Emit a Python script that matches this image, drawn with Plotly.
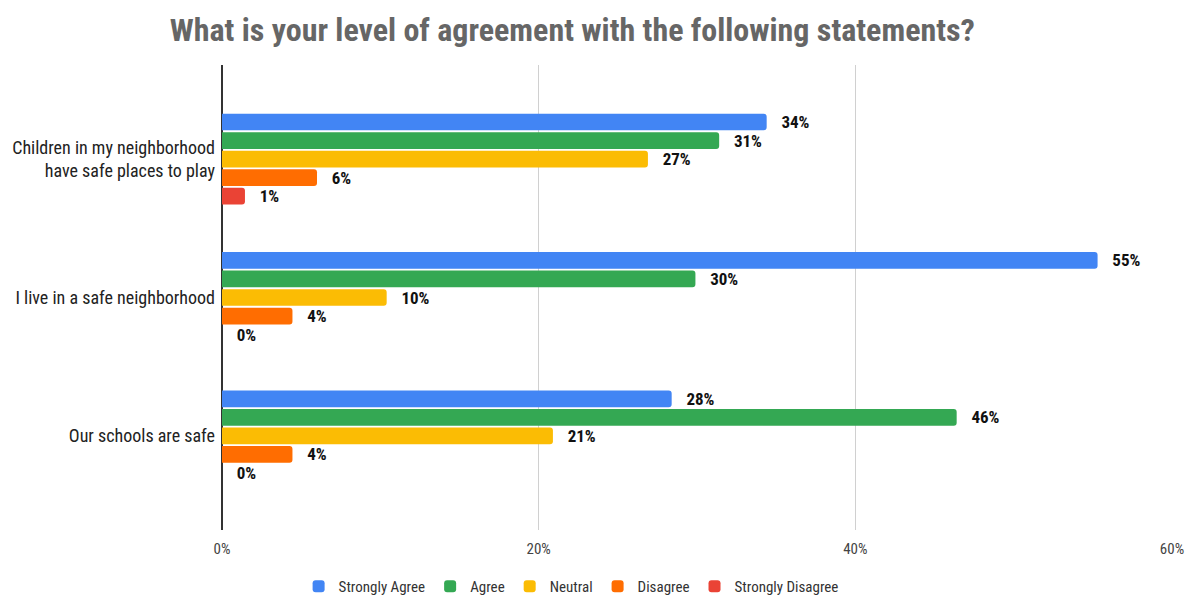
import plotly.graph_objects as go

categories = ["Children in my neighborhood<br>have safe places to play",
              "I live in a safe neighborhood",
              "Our schools are safe"]
series_names = ["Strongly Agree", "Agree", "Neutral", "Disagree", "Strongly Disagree"]
strongly_agree = [0.344, 0.553, 0.284]
agree = [0.314, 0.299, 0.464]
neutral = [0.269, 0.104, 0.209]
disagree = [0.060, 0.0445, 0.0445]
strongly_disagree = [0.0145, 0.0, 0.0]
colors = ["#4285F4", "#34A853", "#FBBC04", "#FF6D01", "#EA4335"]
tick_vals = [0, 0.2, 0.4, 0.6]
tick_text = ["0%", "20%", "40%", "60%"]

FONT = "Liberation Sans Narrow, Roboto Condensed, Arial Narrow, Liberation Sans, sans-serif"

fig = go.Figure()
for name, vals, col in zip(series_names,
                           [strongly_agree, agree, neutral, disagree, strongly_disagree],
                           colors):
    fig.add_trace(go.Bar(
        y=categories, x=vals, name=name, orientation="h",
        marker=dict(color=col, line=dict(width=0)),
        texttemplate="\u00a0\u00a0\u00a0%{x:.0%}", textposition="outside",
        constraintext="none",
        textfont=dict(family=FONT, size=17, color="#111111", weight="bold"),
        cliponaxis=False,
    ))

fig.update_layout(
    width=1188, height=588,
    paper_bgcolor="white", plot_bgcolor="white",
    font=dict(family=FONT),
    title=dict(text="<b>What is your level of agreement with the following statements?</b>",
               x=0.475, xanchor="center", y=0.963, yanchor="middle",
               font=dict(family=FONT, size=32, color="#666666")),
    margin=dict(l=214, r=24, t=57, b=66, autoexpand=False),
    barmode="group", bargap=0.33, bargroupgap=0.1,
    barcornerradius=3,
    xaxis=dict(range=[0, 0.6], tickvals=tick_vals, ticktext=tick_text,
               showgrid=True, gridcolor="#d0d0d0", gridwidth=1,
               zeroline=True, zerolinecolor="#333333", zerolinewidth=1.5,
               tickfont=dict(family=FONT, size=15, color="#444444"),
               ticks="", showline=False, automargin=False, ticklabelstandoff=8),
    yaxis=dict(range=[2.68, -0.68], autorange=False, automargin=False,
               tickfont=dict(family=FONT, size=18, color="#222222"),
               ticks="", showgrid=False, showline=False, ticklabelstandoff=6),
    legend=dict(orientation="h", xref="container", yref="container",
                x=0.474, xanchor="center", y=0.016, yanchor="middle",
                font=dict(family=FONT, size=15, color="#333333"),
                itemwidth=30, traceorder="normal"),
)

fig.write_html("out.html")
